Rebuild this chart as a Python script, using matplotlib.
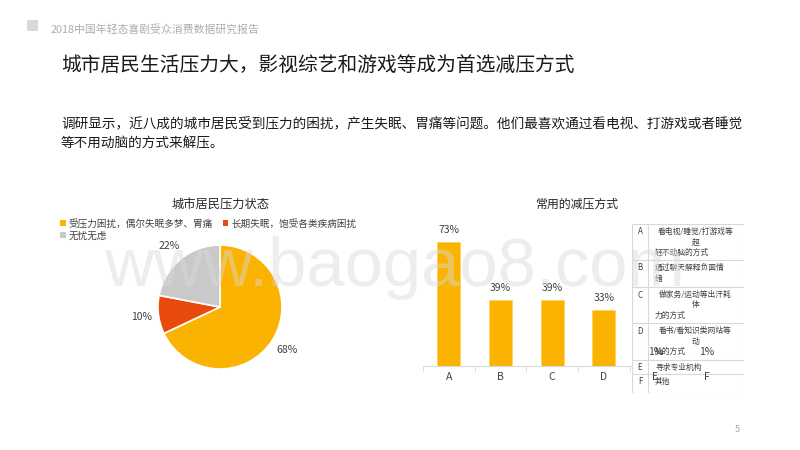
import matplotlib
matplotlib.use("Agg")
import matplotlib.pyplot as plt
from matplotlib.patches import Patch, Rectangle

plt.rcParams['font.family'] = ['Noto Sans CJK SC', 'DejaVu Sans']

# ---------------- data ----------------
header_text = "2018中国年轻态喜剧受众消费数据研究报告"
title_text = "城市居民生活压力大，影视综艺和游戏等成为首选减压方式"
body_lines = ["调研显示，近八成的城市居民受到压力的困扰，产生失眠、胃痛等问题。他们最喜欢通过看电视、打游戏或者睡觉",
              "等不用动脑的方式来解压。"]

pie_title = "城市居民压力状态"
pie_labels = ["受压力困扰，偶尔失眠多梦、胃痛", "长期失眠，饱受各类疾病困扰", "无忧无虑"]
pie_values = [68, 10, 22]

bar_title = "常用的减压方式"
bar_categories = ["A", "B", "C", "D", "E", "F"]
bar_values = [73, 39, 39, 33, 1, 1]

table_letters = ["A", "B", "C", "D", "E", "F"]
table_lines = [
    ["看电视/睡觉/打游戏等", "超", "轻不动脑的方式"],
    ["通过聊天解释负面情", "绪"],
    ["做家务/运动等出汗耗", "体", "力的方式"],
    ["看书/看知识类网站等", "动", "脑的方式"],
    ["寻求专业机构"],
    ["其他"],
]
watermark = "www.baogao8.com"
page_no = "5"

# ---------------- style ----------------
ORANGE = "#FAB300"
RED = "#E84A0C"
GRAY = "#C9C9C9"
LINE = "#D9D9D9"
TXT = "#404040"

W, H = 800, 450
fig = plt.figure(figsize=(8, 4.5), dpi=100)


def box(l, t, r, b):
    return [l / W, 1 - b / H, (r - l) / W, (b - t) / H]


def fx(x):
    return x / W


def fy(y):
    return 1 - y / H


# header
fig.patches.append(Rectangle((fx(27), fy(31)), 11 / W, 11 / H, transform=fig.transFigure,
                             facecolor="#D9D9D9", edgecolor="none"))
fig.text(fx(51), fy(29), header_text, fontsize=7.8, color="#ADADAD", va="center", ha="left")
fig.text(fx(61), fy(65), title_text, fontsize=14.2, color="#1a1a1a", va="center", ha="left")
for i, ln in enumerate(body_lines):
    fig.text(fx(61), fy(124 + 19 * i), ln, fontsize=9.8, color="#1a1a1a", va="center", ha="left")

# watermark
fig.text(fx(104), fy(286), watermark, fontsize=49.5, family="Liberation Sans",
         color="#D9D9D9", alpha=0.45, va="baseline", ha="left", zorder=10)

# ---------------- pie ----------------
cx, cy, r = 220, 307, 62
axp = fig.add_axes(box(cx - 1.5 * r, cy - 1.5 * r, cx + 1.5 * r, cy + 1.5 * r))
wedges, _, autotexts = axp.pie(pie_values, colors=[ORANGE, RED, GRAY], startangle=90,
                               counterclock=False, autopct="%.0f%%", pctdistance=1.28,
                               wedgeprops=dict(edgecolor="white", linewidth=1.2),
                               textprops=dict(fontsize=7.5, color=TXT))
axp.set_xlim(-1.5, 1.5)
axp.set_ylim(-1.5, 1.5)
axp.set_aspect("equal")
axp.axis("off")

fig.text(fx(221), fy(205), pie_title, fontsize=8.8, color="#262626", ha="center", va="center")
handles = [Patch(facecolor=c, edgecolor="none") for c in [ORANGE, RED, GRAY]]
order = [0, 2, 1]
fig.legend([handles[i] for i in order], [pie_labels[i] for i in order], ncol=2,
           loc="upper left", bbox_to_anchor=(fx(60), fy(219)), frameon=False,
           fontsize=6.9, handlelength=0.6, handleheight=0.6, handletextpad=0.3,
           columnspacing=1.0, labelspacing=0.25, borderaxespad=0, borderpad=0,
           labelcolor=TXT)

# ---------------- bars ----------------
fig.text(fx(578), fy(204), bar_title, fontsize=8.6, color="#262626", ha="center", va="center")
bar_box = box(423, 230, 733, 366)
xlim = (-0.5, len(bar_categories) - 0.5)
ylim = (0, 80)
axb = fig.add_axes(bar_box, zorder=1)
x = list(range(len(bar_categories)))
axb.bar(x, bar_values, width=0.45, color=ORANGE, edgecolor="#FFD35C", linewidth=0.6)
axb.set_xlim(*xlim)
axb.set_ylim(*ylim)
for s in ["top", "right", "left"]:
    axb.spines[s].set_visible(False)
axb.spines["bottom"].set_color(LINE)
axb.set_yticks([])
axb.set_xticks([])
axb.set_xticks([i - 0.5 for i in range(len(bar_categories) + 1)], minor=True)
axb.tick_params(axis="x", which="minor", length=4, color=LINE, labelbottom=False)
axb.patch.set_alpha(0)

# table (drawn over the right part of the bar chart)
tl, tt, tr, tb = 632, 224, 744, 393
axt = fig.add_axes(box(tl, tt, tr, tb), zorder=2)
axt.set_xlim(tl, tr)
axt.set_ylim(tb, tt)
axt.axis("off")
axt.add_patch(Rectangle((tl, tt), tr - tl, tb - tt, facecolor="white", edgecolor=LINE, lw=0.8))
row_edges = [224, 260, 287, 323, 360, 374, 393]
for y in row_edges[1:-1]:
    axt.plot([tl, tr], [y, y], color=LINE, lw=0.8)
axt.plot([648, 648], [tt, tb], color=LINE, lw=0.8)
for k, (letter, lines) in enumerate(zip(table_letters, table_lines)):
    top = row_edges[k]
    axt.text(640, top + 8, letter, fontsize=5.8, color=TXT, ha="center", va="center")
    n = len(lines)
    for j, ln in enumerate(lines):
        y = top + 8 + 10.5 * j
        if n == 3 and j < 2:
            axt.text(695.5, y, ln, fontsize=5.6, color=TXT, ha="center", va="center")
        else:
            axt.text(655, y, ln, fontsize=5.6, color=TXT, ha="left", va="center")

# overlay axes for bar labels (drawn above the table)
axo = fig.add_axes(bar_box, zorder=3)
axo.set_xlim(*xlim)
axo.set_ylim(*ylim)
axo.patch.set_alpha(0)
for s in axo.spines.values():
    s.set_visible(False)
axo.set_yticks([])
axo.set_xticks(x, bar_categories)
axo.tick_params(axis="x", which="both", length=0, pad=4, labelsize=7.5, labelcolor=TXT)
for i, v in zip(x, bar_values):
    axo.annotate(f"{v}%", (i, v), xytext=(0, 5), textcoords="offset points",
                 ha="center", va="bottom", fontsize=7.5, color=TXT)

fig.text(fx(737), fy(430), page_no, fontsize=6.5, color="#A6A6A6", ha="center", va="center")

fig.savefig("out.png", dpi=100)
